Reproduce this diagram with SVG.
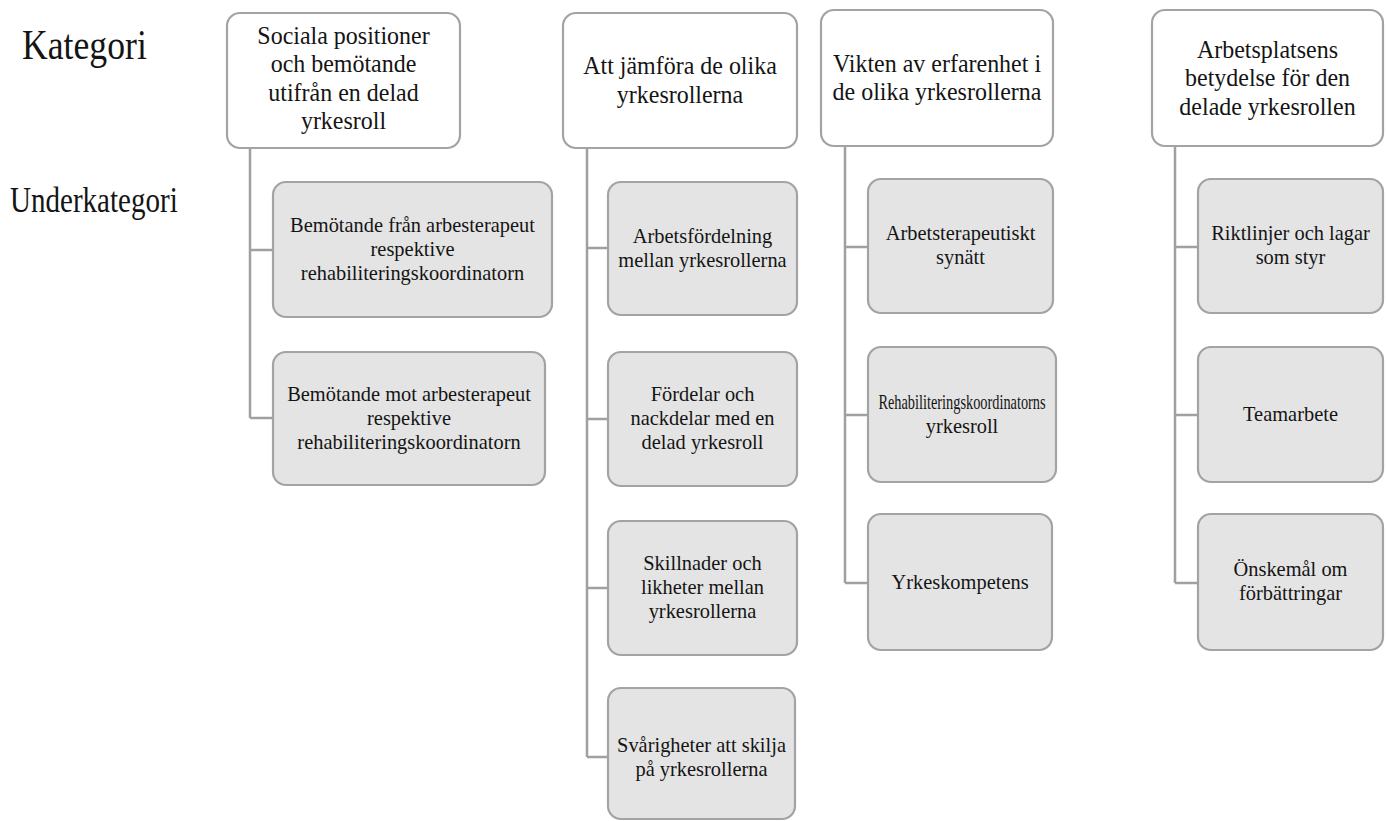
<svg xmlns="http://www.w3.org/2000/svg" width="1386" height="821" viewBox="0 0 1386 821">
<style>
  .bg{fill:#ffffff}
  .cat rect{fill:#ffffff;stroke:#a3a3a3;stroke-width:2.2}
  .sub rect{fill:#e4e4e4;stroke:#a3a3a3;stroke-width:2.2}
  .conn path{fill:none;stroke:#a0a0a0;stroke-width:2.5}
  text{font-family:"Liberation Serif","Times New Roman",serif;fill:#141414}
  .ct{font-size:25.5px;text-anchor:middle}
  .st{font-size:21.5px;text-anchor:middle}
</style>
<rect class="bg" x="0" y="0" width="1386" height="821"/>

<g id="labels">
  <text transform="translate(22 0) scale(0.83 1)" x="0" y="59" style="font-size:43px">Kategori</text>
  <text transform="translate(10 0) scale(0.83 1)" x="0" y="212" style="font-size:35px">Underkategori</text>
</g>

<g class="conn" id="connectors">
  <path d="M250 148 V418 M250 250 H273 M250 418 H273"/>
  <path d="M587 148 V757 M587 248 H608 M587 419 H608 M587 588 H608 M587 757 H608"/>
  <path d="M845 146 V583 M845 247 H868 M845 415 H868 M845 583 H868"/>
  <path d="M1175 146 V583 M1175 247 H1198 M1175 415 H1198 M1175 583 H1198"/>
</g>

<g class="cat" id="cat1">
  <rect x="227" y="13" width="233" height="135" rx="13"/>
  <text class="ct" transform="translate(343.5 0) scale(0.94 1)"><tspan x="0" y="44">Sociala positioner</tspan><tspan x="0" y="72.5">och bemötande</tspan><tspan x="0" y="101">utifrån en delad</tspan><tspan x="0" y="129.5">yrkesroll</tspan></text>
</g>
<g class="cat" id="cat2">
  <rect x="563" y="13" width="234" height="135" rx="13"/>
  <text class="ct" transform="translate(680 0) scale(0.94 1)"><tspan x="0" y="74.5">Att jämföra de olika</tspan><tspan x="0" y="103">yrkesrollerna</tspan></text>
</g>
<g class="cat" id="cat3">
  <rect x="821" y="10" width="232" height="136" rx="13"/>
  <text class="ct" transform="translate(937 0) scale(0.94 1)"><tspan x="0" y="72">Vikten av erfarenhet i</tspan><tspan x="0" y="100.5">de olika yrkesrollerna</tspan></text>
</g>
<g class="cat" id="cat4">
  <rect x="1152" y="10" width="231" height="136" rx="13"/>
  <text class="ct" transform="translate(1267.5 0) scale(0.94 1)"><tspan x="0" y="58">Arbetsplatsens</tspan><tspan x="0" y="86.5">betydelse för den</tspan><tspan x="0" y="115">delade yrkesrollen</tspan></text>
</g>

<g class="sub" id="sub1a">
  <rect x="273" y="182" width="279" height="135" rx="13"/>
  <text class="st" transform="translate(412.5 0) scale(0.95 1)"><tspan x="0" y="232">Bemötande från arbesterapeut</tspan><tspan x="0" y="256">respektive</tspan><tspan x="0" y="280">rehabiliteringskoordinatorn</tspan></text>
</g>
<g class="sub" id="sub1b">
  <rect x="273" y="352" width="272" height="133" rx="13"/>
  <text class="st" transform="translate(409 0) scale(0.95 1)"><tspan x="0" y="401">Bemötande mot arbesterapeut</tspan><tspan x="0" y="425">respektive</tspan><tspan x="0" y="449">rehabiliteringskoordinatorn</tspan></text>
</g>

<g class="sub" id="sub2a">
  <rect x="608" y="182" width="189" height="133" rx="13"/>
  <text class="st" transform="translate(702.5 0) scale(0.95 1)"><tspan x="0" y="243">Arbetsfördelning</tspan><tspan x="0" y="267">mellan yrkesrollerna</tspan></text>
</g>
<g class="sub" id="sub2b">
  <rect x="608" y="352" width="189" height="134" rx="13"/>
  <text class="st" transform="translate(702.5 0) scale(0.95 1)"><tspan x="0" y="401.5">Fördelar och</tspan><tspan x="0" y="425.5">nackdelar med en</tspan><tspan x="0" y="449.5">delad yrkesroll</tspan></text>
</g>
<g class="sub" id="sub2c">
  <rect x="608" y="521" width="189" height="134" rx="13"/>
  <text class="st" transform="translate(702.5 0) scale(0.95 1)"><tspan x="0" y="570.5">Skillnader och</tspan><tspan x="0" y="594.5">likheter mellan</tspan><tspan x="0" y="618.5">yrkesrollerna</tspan></text>
</g>
<g class="sub" id="sub2d">
  <rect x="608" y="688" width="187" height="131" rx="13"/>
  <text class="st" transform="translate(701.5 0) scale(0.95 1)"><tspan x="0" y="752">Svårigheter att skilja</tspan><tspan x="0" y="776.5">på yrkesrollerna</tspan></text>
</g>

<g class="sub" id="sub3a">
  <rect x="868" y="179" width="185" height="134" rx="13"/>
  <text class="st" transform="translate(960.5 0) scale(0.95 1)"><tspan x="0" y="240.5">Arbetsterapeutiskt</tspan><tspan x="0" y="264.5">synätt</tspan></text>
</g>
<g class="sub" id="sub3b">
  <rect x="868" y="347" width="188" height="135" rx="13"/>
  <text class="st" transform="translate(962 0) scale(0.95 1)"><tspan x="0" y="409" textLength="176" lengthAdjust="spacingAndGlyphs">Rehabiliteringskoordinatorns</tspan><tspan x="0" y="433">yrkesroll</tspan></text>
</g>
<g class="sub" id="sub3c">
  <rect x="868" y="514" width="184" height="136" rx="13"/>
  <text class="st" transform="translate(960 0) scale(0.95 1)"><tspan x="0" y="589">Yrkeskompetens</tspan></text>
</g>

<g class="sub" id="sub4a">
  <rect x="1198" y="179" width="185" height="134" rx="13"/>
  <text class="st" transform="translate(1290.5 0) scale(0.95 1)"><tspan x="0" y="240.5">Riktlinjer och lagar</tspan><tspan x="0" y="264.5">som styr</tspan></text>
</g>
<g class="sub" id="sub4b">
  <rect x="1198" y="347" width="185" height="135" rx="13"/>
  <text class="st" transform="translate(1290.5 0) scale(0.95 1)"><tspan x="0" y="421">Teamarbete</tspan></text>
</g>
<g class="sub" id="sub4c">
  <rect x="1198" y="514" width="185" height="136" rx="13"/>
  <text class="st" transform="translate(1290.5 0) scale(0.95 1)"><tspan x="0" y="576.5">Önskemål om</tspan><tspan x="0" y="600.5">förbättringar</tspan></text>
</g>
</svg>
